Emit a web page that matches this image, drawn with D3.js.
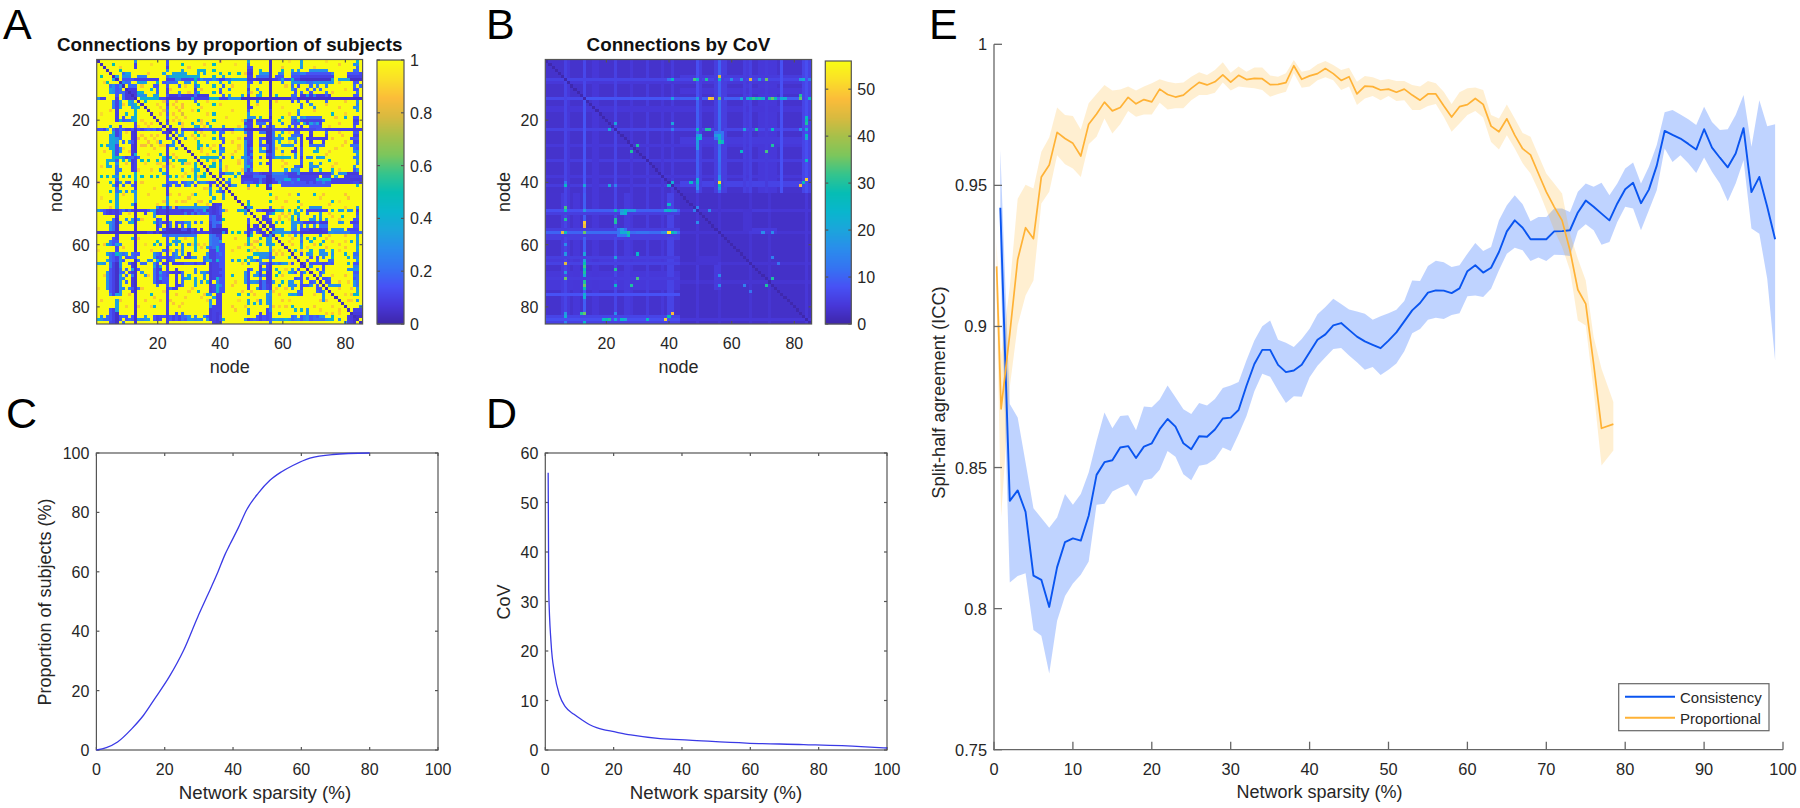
<!DOCTYPE html>
<html><head><meta charset="utf-8">
<script src="https://cdn.jsdelivr.net/npm/d3@7/dist/d3.min.js"></script>
<style>html,body{margin:0;padding:0;background:#fff}svg{display:block}text{font-family:"Liberation Sans",Arial,sans-serif}</style>
</head><body><svg id="c" width="1800" height="808"></svg>
<script>
// ---------- DATA ----------
const nodeCount = 85;
const heatTicks = [20,40,60,80];
const propBarTicks = [0,.2,.4,.6,.8,1];
const covBarTicks = [0,10,20,30,40,50];
const percentTicks = [0,20,40,60,80,100];
const covTicks = [0,10,20,30,40,50,60];
const iccTicks = [.75,.8,.85,.9,.95,1];
const sparsityTicks = [0,10,20,30,40,50,60,70,80,90,100];
const parulaStops = ["#3e26a8","#4737d8","#4751f5","#3573f2","#2a8cec","#1ca4dc","#09b6cd","#06bdb4","#35c48c","#7cc65c","#a6c04a","#d8ba3f","#fbbc3a","#fadf28","#f9fb15"];

// Panel A: bands of low values (rowFrom,rowTo,colFrom,colTo,value; upper triangle)
const proportionBands = [
[20,36,48,48,.3],[20,36,50,50,.22],[22,32,55,55,.15],[22,32,57,57,.22],[39,40,47,85,.1],[6,7,66,76,.1],[5,5,66,76,.25],[8,8,66,76,.3],[5,7,81,85,.12],[24,30,83,84,.15],
[12,13,66,75,.08],[20,20,49,50,.1],[20,20,53,56,.1],[20,20,63,66,.12],[20,20,67,72,.16],[19,19,67,72,.35],[21,21,67,72,.35],
[39,42,49,49,.05],[39,42,55,56,.05],[40,41,60,75,.15],[39,39,60,75,.4],[1,42,56,56,.06],[1,42,49,49,.08],
[12,13,23,36,.08],[6,7,14,16,.25],[7,7,23,33,.15],[6,6,23,33,.38],[7,7,35,43,.2],
[1,2,23,23,.2],[6,7,23,23,.12]
];
// Panel A: cells that differ from 1 (upper triangle; "row: col value; from-to value")
const proportionRuns = [
"1: 13 .3; 23 .15; 49 .35; 56 .05; 66 .35; 84 .4",
"2: 6 .5; 13 .1; 23 .15; 28 .5; 49 .2; 56 .05; 66 .35; 83-84 .3",
"3: 13 .1; 23 .1; 49-50 .15; 56 .05; 66 .3; 84 .2",
"4: 8 .5; 23 .3; 28 .35; 33-35 .4; 38 .4; 49-50 .1; 53 .4; 56 .05; 60 .45; 63 .35; 65 .35; 69-74 .3; 83-84 .2",
"5: 9 .2; 10-11 .35; 22 .35; 25-29 .35; 33 .35; 35 .35; 40 .4; 43 .45; 46 .45; 49-50 .08; 53-55 .3; 56 .05; 59-60 .25; 63-65 .2; 68-75 .15; 81-84 .15",
"6: 7 .35; 9-11 .3; 23 .2; 32 .4; 41 .35; 49-50 .1; 52-55 .2; 56 .05; 58-60 .15; 63-65 .15; 67-75 .1; 81-85 .1",
"7: 9-12 .15; 13-20 .1; 23-25 .1; 26-27 .3; 28-31 .12; 32 .5; 34 .3; 38 .3; 40-41 .1; 44-48 .35; 49-51 .08; 52-56 .05; 57-58 .1; 59 .15; 60 .35; 61-62 .12; 63 .45; 64-65 .1; 66-75 .05; 76 .35; 78-79 .35; 80-81 .35; 82-85 .05",
"8: 9 .3; 10-11 .2; 14-16 .35; 20 .4; 22 .15; 23-26 .2; 29-30 .3; 32 .4; 36 .25; 40 .3; 43 .4; 49-50 .15; 53 .25; 56 .05; 60 .25; 63-65 .3; 68-69 .2; 71 .3; 73-74 .3; 83-84 .15",
"9: 11-13 .2; 19-20 .15; 23 .15; 27 .2; 32 .2; 41 .2; 49 .2; 56 .05; 63 .2; 65 .15; 69 .2; 71 .25; 74 .25; 83 .2; 85 .2",
"10: 11-13 .08; 18 .4; 20 .2; 23 .1; 32 .1; 40 .2; 43 .3; 49 .1; 52 .3; 56 .05; 63 .3; 64 .15; 68 .2; 70 .2; 72 .2; 83-84 .15",
"11: 12-13 .08; 14-15 .4; 20 .2; 23 .1; 27 .3; 32 .15; 40 .15; 49 .2; 53 .3; 56 .05; 64 .15; 66 .2; 69 .15; 74 .25; 84 .2",
"12: 13 .08; 14-16 .3; 19-20 .35; 23 .15; 27 .15; 32 .2; 41 .2; 43 .35; 47 .35; 49 .1; 52 .3; 53 .4; 56 .05; 58 .4; 63-64 .2; 68 .35; 70 .25; 74 .15; 83-84 .15",
"13: 15-20 .4; 21-22 .12; 23-30 .06; 31 .4; 32-36 .1; 37-39 .4; 40-42 .1; 43-46 .3; 47-62 .05; 63-64 .15; 65-85 .05",
"14: 16 .4; 23 .15; 32 .2; 49 .1; 52 .3; 56 .05; 63 .15; 65 .2; 68 .15; 74 .2; 84 .3",
"15: 23 .1; 49 .1; 56 .05; 66 .2; 69 .3; 84 .25",
"16: 23 .15; 28 .85; 49-50 .1; 56 .05; 66 .2; 70 .3; 83-84 .3",
"17: 23 .2; 49 .15; 56 .1; 65 .3; 84 .35",
"18: 23 .15; 28 .8; 49 .3; 56 .1; 65 .25; 76 .45",
"19: 23 .2; 49-51 .3; 53 .4; 56 .05; 60 .4; 63-64 .3; 66 .25; 68-72 .2; 80 .4; 83-84 .15",
"20: 23 .1; 49-50 .08; 52-53 .12; 55-56 .1; 59 .45; 63 .2; 64 .12; 65 .4; 67-72 .1; 73 .2; 83-84 .1",
"21: 23 .15; 27 .3; 31 .4; 36 .3; 48-50 .1; 52-54 .2; 56 .05; 60 .25; 63-65 .15; 68 .1; 70 .2; 72 .1; 83-84 .12",
"22: 24 .1; 32 .4; 37 .4; 41 .3; 49-50 .1; 53 .1; 56 .05; 62 .2; 64 .15; 66 .1; 69-72 .15; 83 .15",
"23: 24-26 .08; 28-34 .1; 35-40 .15; 41-44 .1; 45-47 .3; 48-56 .06; 57-60 .15; 61-66 .1; 67-70 .12; 71-73 .15; 74-85 .1",
"24: 26 .2; 28 .3; 32 .45; 40-41 .2; 49-50 .1; 53-54 .2; 55-56 .05; 60 .4; 64-65 .15; 69 .1; 74 .2; 83-84 .15",
"25: 27-28 .3; 40 .15; 49-50 .1; 55-56 .05; 59 .35; 63-65 .2; 66 .1; 69 .08; 74 .1; 83-84 .1",
"26: 29 .3; 40-41 .2; 48-50 .1; 53-54 .12; 55-56 .05; 58-60 .3; 62-64 .3; 66 .1; 68-74 .1; 82-84 .15",
"27: 41 .15; 49-50 .1; 53 .2; 55-56 .05; 59 .4; 64 .2; 66 .1; 69 .08; 73 .1; 83-84 .1",
"28: 33-34 .4; 36 .35; 40 .15; 49 .08; 50 .1; 53-55 .15; 56 .05; 60-63 .3; 66 .1; 69-73 .2; 82-84 .2",
"29: 40-41 .2; 49 .1; 53 .3; 56 .05; 64 .1; 66 .15; 71 .3; 83 .2",
"30: 40-41 .3; 49-50 .1; 53-54 .3; 55-56 .05; 60 .3; 63-64 .1; 66 .15; 70-71 .4; 83-84 .3",
"31: 40 .2; 49 .1; 56 .1; 64 .3; 66 .15; 84 .3",
"32: 34-39 .4; 41 .15; 44 .4; 47-48 .3; 49 .2; 50 .1; 53 .2; 55-56 .08; 58-62 .4; 64 .3; 66 .1; 68-69 .25; 71-73 .35; 83-84 .25",
"33: 9 .45; 11 .4; 15 .45; 17 .5; 20 .45; 22 .35; 25 .45; 27 .45; 29 .5; 36 .4; 40 .2; 49 .15; 56 .1; 66 .15; 75 .4; 84 .3",
"34: 40 .3; 49-50 .15; 53 .3; 55-56 .1; 66 .15; 69 .3; 72 .3; 84 .25",
"35: 37-38 .45; 40 .3; 49 .4; 50 .15; 56 .1; 64-65 .2; 66 .1; 69-71 .3; 83 .3",
"36: 40 .2; 56 .1; 61 .35; 63-65 .3; 69 .2; 72 .4; 76 .4; 83 .15; 84 .3",
"37: 40-41 .12; 42-44 .35; 46 .35; 48-50 .1; 51-52 .15; 53 .1; 54-56 .07; 57-60 .25; 61 .15; 62-64 .1; 65 .3; 66-72 .08; 73-75 .1; 76 .3; 78-80 .3; 81-84 .08",
"38: 2 .45; 4 .45; 6 .4; 9 .4; 11 .45; 15 .45; 18 .4; 20 .45; 24 .45; 26 .4; 30 .45; 34 .45; 40 .1; 45 .4; 47-50 .08; 51-54 .2; 55-56 .05; 57-61 .2; 62-65 .1; 66-71 .1; 73-75 .12; 77 .35; 80-85 .1",
"39: 41 .1; 43 .35; 48-50 .1; 53 .2; 55-56 .05; 58-60 .2; 63-64 .15; 66-70 .1; 72 .25; 82-85 .08",
"40: 42-43 .2; 48-50 .15; 53 .25; 56 .05; 59 .3; 63 .2; 65 .15; 68 .1; 70 .1; 73 .25; 83-84 .12",
"41: 43 .1; 44-45 .3; 49 .3; 52 .5; 56 .3; 84 .4",
"42: 49 .85",
"44: 56 .45; 65 .3; 70 .4",
"46: 49 .3; 56 .5; 65 .4; 76 .4",
"47: 49 .5",
"48: 49-50 .3; 56 .2; 65 .45; 69-72 .3; 84 .3",
"49: 52-53 .15; 54-57 .08; 58-60 .4; 62 .45; 64 .4; 66 .3; 68-74 .12; 76 .4; 78-79 .35; 81-82 .3; 84 .1",
"50: 55 .1; 56 .2; 57 .45; 64-65 .35; 68 .2; 72 .3; 84 .15",
"51: 54 .1; 55 .15; 63 .4; 65 .3; 70 .3; 72 .3; 79 .4; 84 .2",
"52: 54-55 .1; 56 .15; 63 .45; 65 .15; 69-70 .3; 72 .25; 74 .35; 83-84 .15",
"53: 55-56 .08; 58 .4; 60 .5; 63-65 .3; 66 .2; 67-70 .1; 71 .2; 72-74 .08; 78-79 .3; 82-84 .1",
"54: 56-57 .08; 63-64 .3; 66 .2; 68 .3; 70 .25; 72-74 .2; 83-84 .15",
"55: 57 .1; 58-60 .3; 63 .3; 64 .25; 66-68 .12; 69-72 .08; 73-74 .1; 76-79 .3; 81-84 .12",
"56: 57-62 .3; 63-64 .15; 65 .2; 66-74 .08; 75-76 .3; 77-81 .25; 82-84 .15; 85 .2",
"57: 60 .4; 64 .3; 66 .2; 72 .3; 84 .3",
"58: 66 .3; 68 .4; 70 .5; 84 .35",
"59: 66 .2; 69 .4; 73 .35; 82 .4; 84 .3",
"60: 66 .3; 72 .45; 84 .3",
"61: 66 .35; 84 .4",
"62: 64 .4; 69 .4; 72-73 .3; 76 .4; 84 .3",
"63: 66 .15; 68-69 .3; 72-74 .3; 76 .3; 80 .4; 83-84 .2",
"64: 69 .15; 71 .15; 73 .25; 76 .4; 81 .4; 83-84 .25",
"65: 68 .15; 71 .2; 75-76 .2; 84 .3",
"66: 67 .1; 69-72 .15; 73-74 .12; 75 .2; 76 .15; 81 .4; 83-84 .15",
"67: 69 .3; 73 .15; 83-84 .25",
"68: 71 .2; 73 .15; 81-84 .3",
"69: 72 .15; 73 .3; 83-84 .15",
"70: 72 .2; 83-84 .2",
"71: 73 .15; 74 .15; 75 .2; 83 .15; 84 .2",
"72: 74-75 .15; 83 .3; 84 .2",
"73: 75-78 .3; 83 .3; 84 .2",
"74: 84 .3", "75: 84 .35", "76: 83 .45; 84 .4", "78: 84 .3", "80: 85 .3",
"81: 83-85 .1", "82: 83-85 .08", "83: 84-85 .05"
];
// Panel A: pale orange specks among the yellow cells
const proportionSpecks = [
"1: 40 .88; 62 .92; 74 .92", "2: 18 .92; 35 .9; 45 .92; 78 .88", "3: 8 .9; 30 .88; 60 .88; 70 .9",
"5: 17 .88; 48 .88", "8: 26 .88; 78 .88", "9: 15 .88; 29 .9; 44 .88; 61 .88",
"10: 24 .9; 34 .88; 80 .9", "11: 30 .88; 50 .88; 76 .88", "14: 22 .88; 26 .85; 36 .9; 58 .88; 80 .88",
"15: 20 .9; 25 .88; 28 .85; 40 .88; 52 .88; 74 .88", "16: 21 .9; 26 .88; 34 .9; 60 .92; 78 .88",
"17: 22 .88; 27 .85; 31 .9; 44 .9; 70 .88", "18: 21 .88; 25 .88; 36 .9; 62 .88; 80 .9",
"19: 26 .9; 29 .88; 42 .9; 77 .88", "20: 25 .88; 27 .9; 34 .88; 47 .9", "21: 28 .88; 34 .9; 78 .88",
"22: 28 .9; 35 .88; 46 .88; 75 .9", "24: 34 .9; 44 .9; 62 .88; 78 .88", "25: 31 .88; 35 .9; 48 .88; 79 .88",
"26: 32 .88; 38 .9; 46 .88; 76 .88", "27: 33 .9; 44 .88; 62 .9; 80 .88", "28: 38 .9; 46 .88; 79 .9",
"29: 34 .88; 37 .9; 46 .9; 58 .88; 77 .9", "30: 34 .88; 38 .88; 45 .88; 75 .88", "31: 36 .88; 44 .9; 60 .9; 74 .88",
"33: 38 .88; 46 .9; 60 .88", "34: 38 .9; 46 .88; 61 .88; 77 .9", "35: 42 .88; 60 .9; 76 .88", "36: 42 .9; 47 .88; 78 .9",
"44: 62 .9; 73 .88; 80 .88", "45: 58 .88; 72 .9; 81 .88", "46: 61 .88; 78 .92", "47: 66 .9; 75 .88", "48: 60 .88; 80 .9",
"50: 60 .85; 62 .88; 75 .88", "51: 59 .88; 61 .9; 76 .88", "52: 59 .85; 62 .9; 78 .88", "57: 62 .9; 75 .88; 80 .88",
"58: 63 .88; 74 .88", "59: 62 .9; 76 .88; 80 .9", "60: 63 .88; 70 .88; 78 .88", "61: 68 .9; 74 .88; 80 .88",
"62: 66 .88; 78 .9", "70: 76 .9; 80 .88", "72: 78 .88; 81 .9", "74: 78 .88; 82 .88", "76: 80 .9; 82 .88", "78: 81 .88; 82 .9"
];
const proportionDiagonal = .03;

// Panel B: regions of the coefficient of variation (rowFrom,rowTo,colFrom,colTo,value; upper triangle)
const covBackground = 3.1;
const covDiagonal = .5;
const covRegions = [
[44,85,44,85,2.7],[1,43,1,43,3],
[1,43,65,66,4.4],[1,43,69,74,4.2],[1,43,84,84,6],[1,43,83,83,4.8],[1,43,55,55,5],[1,43,50,50,5],[1,43,41,41,4.6],
[33,33,1,85,4.8],[28,28,1,85,4.2],[38,38,1,85,4.2],[26,27,44,85,4.6],[8,8,1,85,4.2],[16,17,1,85,4],[10,11,44,85,4],
[1,6,7,7,5.5],[8,43,7,7,6.5],[1,12,13,13,6.5],[14,43,13,13,8.5],[1,22,23,23,5.5],[24,43,23,23,6.5],
[1,43,49,49,8],[1,43,56,56,8.5],[1,30,76,76,7],[1,43,58,58,5],
[44,85,7,7,7.5],[44,85,13,13,10],[44,85,23,23,6.5],[44,85,41,41,6],[44,85,6,6,4.6],[44,85,40,40,5],
[7,7,8,85,6],[13,13,14,43,8.5],[13,13,44,85,9.5],[23,23,24,85,6],[40,41,44,85,5.8],
[49,49,14,43,9.5],[49,49,1,12,7.5],[56,56,14,43,11],[56,56,1,12,10],[50,50,1,43,5],[55,55,1,43,5],[57,57,1,43,5],
[76,76,1,43,8],[66,66,1,43,5.5],[64,64,1,43,5],[83,83,1,43,6],[84,84,1,43,7.5],[85,85,1,43,5.5],[71,71,1,43,4.6],
[49,49,25,29,18],[56,56,24,27,16],[56,56,30,33,12],[55,57,24,26,12],[49,49,40,42,17],[56,56,38,42,16],
[56,56,44,85,3.6],[49,49,44,85,3.8],[66,66,44,85,3.6],[72,72,44,85,3.5],[49,85,49,49,3.8],[49,85,56,56,3.6],[49,49,66,72,4.5],[55,56,66,74,4.5],[49,55,64,66,3.6],[44,85,84,84,4]
];
const covHotspots = [
[6,56,44],[7,41,26],[7,49,25],[7,52,27],[7,56,30],[7,66,42],[7,71,33],[7,60,16],[7,63,18],[7,69,18],
[13,53,52],[13,54,50],[13,56,33],[13,82,38],[13,76,20],[13,72,25],[13,70,25],[13,63,20],[13,65,20],[13,69,25],[13,85,26],[13,41,18],[13,66,28],[13,68,26],
[23,49,27],[23,52,30],[23,68,33],[23,73,28],[23,41,14],[19,84,28],[21,84,33],[23,21,20],[26,49,25],[26,50,24],[25,50,20],[27,56,35],[25,56,22],[26,56,22],[25,55,18],
[28,30,30],[30,71,33],[28,73,30],[30,63,20],[40,56,50],[41,82,52],[39,84,52],[40,83,28],[33,84,25],[26,84,20],[40,49,25],[39,49,22],[40,47,25],[41,56,28],[41,7,25],[41,13,20],[41,21,20],[41,40,22],
[40,7,12],[47,40,25],[48,7,33],[52,7,30],[53,13,50],[54,13,47],[53,23,30],[56,6,45],[56,7,25],[56,13,35],[56,27,30],[57,27,25],[56,40,52],[56,41,28],[56,42,20],[49,13,18],
[64,23,20],[63,30,25],[66,7,45],[68,23,30],[67,13,32],[69,13,30],[71,7,35],[72,13,30],[73,13,35],[74,13,28],[73,23,25],[76,13,22],[70,13,22],[77,13,22],[82,13,35],[82,12,30],[82,41,48],[84,39,50],[83,40,28],[84,19,25],[84,20,28],[84,21,30],[84,23,22],[84,25,25],[84,33,25],[82,23,16],[85,13,24],[82,7,18],[83,7,22],[85,7,14],
[49,48,14],[53,49,16],[56,70,16],[56,73,16],[64,73,14],[66,75,12],[71,73,30]
];

// Panel C
const proportionX = [0,2.9,6.2,10.4,13.8,17.1,21.3,25.5,29.7,32.3,35.6,37.6,39,41.5,44,47.4,50.8,54.1,57.5,62.5,69.2,80];
const proportionY = [0,.8,2.7,7.2,11.7,17.3,24.6,33.5,44.9,51.5,60,65.7,69,74.7,80.9,86.5,90.8,93.6,95.8,98.3,99.5,100];
// Panel D
const covCurveX = [.84,1,1.7,2.7,4.2,5.9,8.4,10.9,13,15,17,19.3,25,33.6,42,58.8,75.6,92.4,100];
const covCurveY = [56,32.3,21.5,15.5,11,8.7,7.2,6,5.1,4.5,4.1,3.8,3.05,2.3,2,1.4,1.1,.7,.4];

// Panel E: Consistency, x = 0.8 then 2..99
const consistency = [.9421,.8382,.8419,.8343,.8117,.8102,.8006,.8147,.8236,.8249,
.8241,.8329,.8474,.8519,.8526,.8571,.8576,.8534,.8574,.8586,
.8636,.8672,.8645,.8586,.8565,.8611,.8609,.8635,.8674,.8677,
.8704,.879,.8867,.8917,.8917,.8864,.8838,.8844,.8864,.8909,
.8953,.8972,.9004,.9012,.8988,.8964,.8947,.8935,.8923,.895,
.8979,.9018,.9057,.9083,.912,.9128,.9127,.9118,.9135,.9196,
.9217,.9191,.9208,.9264,.9337,.9376,.935,.9309,.9309,.9309,
.9337,.9338,.9341,.9404,.9446,.9424,.94,.9376,.9436,.9486,
.9509,.9437,.9485,.957,.9693,.9679,.9666,.9647,.9627,.9699,
.9634,.9598,.9564,.9613,.9703,.9476,.953,.9424,.9309];
const consistencyUpper = [.9625,.8725,.8677,.8518,.8356,.8321,.8287,.8323,.8406,.8368,
.8406,.8482,.8594,.8695,.8639,.8683,.8685,.8632,.8716,.8714,
.8741,.8791,.8749,.8707,.869,.8729,.872,.8743,.8782,.8791,
.8803,.888,.895,.9001,.9021,.8953,.8942,.8927,.8956,.8992,
.9043,.9069,.9098,.908,.906,.9053,.9045,.9024,.9036,.9047,
.9059,.909,.9163,.9161,.9214,.9233,.9228,.9211,.9217,.9258,
.9296,.9267,.9282,.9376,.943,.9465,.9433,.9373,.9388,.9388,
.9418,.9418,.9406,.9477,.9507,.9495,.9509,.9465,.9507,.956,
.9581,.9507,.9566,.9643,.9759,.9767,.9751,.9734,.9714,.9779,
.9725,.9696,.9699,.9749,.982,.9637,.9802,.971,.9717];
const consistencyLower = [.925,.8093,.8116,.8125,.7924,.7904,.777,.7957,.8045,.8089,
.812,.8167,.8368,.8372,.8415,.8429,.8441,.8397,.8455,.8461,
.8492,.8559,.8538,.8476,.8455,.8506,.8512,.853,.8571,.8559,
.8618,.8683,.877,.8832,.8822,.8773,.8729,.8753,.8751,.882,
.8861,.8891,.892,.8924,.8897,.8873,.8847,.8856,.8828,.8847,
.8869,.8912,.8976,.8991,.9024,.9031,.9026,.9041,.9047,.9107,
.911,.9104,.9134,.9199,.9258,.9279,.927,.9232,.9244,.9232,
.9254,.9253,.925,.9338,.9362,.9341,.929,.9299,.937,.9424,
.9418,.9341,.9412,.9483,.9631,.9583,.9607,.9578,.9544,.9599,
.9548,.9507,.9444,.9507,.9589,.9347,.9329,.9169,.8879];
const consistencyX = [.8,2,3,4,5,6,7,8,9,10,11,12,13,14,15,16,17,18,19,20,21,22,23,24,25,26,27,28,29,30,31,32,33,34,35,36,37,38,39,40,41,42,43,44,45,46,47,48,49,50,51,52,53,54,55,56,57,58,59,60,61,62,63,64,65,66,67,68,69,70,71,72,73,74,75,76,77,78,79,80,81,82,83,84,85,86,87,88,89,90,91,92,93,94,95,96,97,98,99];
// Panel E: Proportional
const proportionalX = [.33,.9,2,3,4,5,6,7,8,9,10,11,12,13,14,15,16,17,18,19,20,21,22,23,24,25,26,27,28,29,30,31,32,33,34,35,36,37,38,39,40,41,42,43,44,45,46,47,48,49,50,51,52,53,54,55,56,57,58,59,60,61,62,63,64,65,66,67,68,69,70,71,72,73,74,75,76,77,78.5];
const proportional = [.9213,.8708,.8974,.9237,.935,.9311,.953,.9572,.9688,.9666,
.9649,.9604,.9717,.9753,.9795,.9764,.9776,.9812,.9789,.9804,.9796,
.9841,.9822,.9813,.982,.9844,.9865,.9856,.9867,.9892,.9866,
.989,.9875,.9879,.9878,.9857,.9858,.9864,.9924,.9876,.9888,
.9896,.9914,.9896,.9872,.9885,.9824,.9852,.985,.9838,.9841,
.983,.9841,.982,.9802,.9824,.9824,.9782,.9742,.9779,.9786,
.9808,.9787,.971,.969,.9736,.9678,.963,.9608,.9542,.9477,
.9424,.9376,.927,.913,.908,.8867,.8639,.8654];
const proportionalUpper = [.93,.89,.914,.9453,.9502,.9489,.9619,.967,.9776,.9749,
.9746,.9698,.9791,.9824,.9856,.9836,.984,.985,.9836,.985,.9862,
.9876,.9867,.9862,.9865,.9885,.9901,.9891,.9909,.9936,.9899,
.9921,.9903,.9918,.9918,.9889,.9885,.9897,.9944,.9903,.9909,
.9929,.9941,.9927,.9909,.9917,.9867,.9888,.9883,.9873,.9877,
.987,.987,.9856,.985,.987,.9862,.9832,.9788,.983,.9844,
.9847,.9838,.9749,.9737,.9787,.9737,.9686,.9672,.9607,.9542,
.9507,.9471,.9329,.924,.9163,.8963,.885,.8732];
const proportionalLower = [.91,.8323,.8785,.9004,.911,.9163,.9436,.9477,.9607,.9575,
.956,.953,.9646,.9672,.9737,.9684,.9717,.9764,.9743,.9751,.9751,
.9793,.9769,.9773,.9773,.9802,.982,.982,.9828,.9865,.9836,
.985,.9847,.9844,.9838,.9814,.9824,.9832,.9897,.9846,.985,
.9873,.9883,.9873,.9838,.985,.9785,.9808,.9817,.9802,.9817,
.9799,.9802,.9767,.9767,.9781,.9788,.9743,.969,.9719,.9749,
.9764,.9741,.9654,.9627,.9678,.9631,.9578,.9542,.9483,.9414,
.9341,.9282,.9199,.9021,.9003,.8772,.8507,.856];
const legendLabels = ["Consistency","Proportional"];

// ---------- DRAWING ----------
const svg = d3.select("#c");
const parula = d3.scaleLinear().domain(parulaStops.map((_,i)=>i/(parulaStops.length-1))).range(parulaStops).clamp(true);
const inkAxis = "#555", inkText = "#262626";

const defs = svg.append("defs");
defs.append("filter").attr("id","soft").attr("x","-2%").attr("y","-2%").attr("width","104%").attr("height","104%")
  .attr("color-interpolation-filters","sRGB")
  .append("feGaussianBlur").attr("stdDeviation",.7);

function blankMatrix(v){ return d3.range(nodeCount).map(()=>new Array(nodeCount).fill(v)); }
function applyRegions(m,list){
  list.forEach(([r0,r1,c0,c1,v])=>{
    for(let r=r0;r<=r1;r++)for(let c=c0;c<=c1;c++){ m[r-1][c-1]=v; m[c-1][r-1]=v; }
  });
}
function applyRuns(m,list){
  list.forEach(line=>{
    const [rowTxt,rest]=line.split(":"); const r=+rowTxt;
    rest.split(";").forEach(part=>{
      const [span,val]=part.trim().split(" ");
      const [a,b]=span.split("-").map(Number);
      for(let c=a;c<=(b||a);c++){ m[r-1][c-1]=+val; m[c-1][r-1]=+val; }
    });
  });
}
const matA = blankMatrix(1);
applyRegions(matA,proportionBands);
applyRuns(matA,proportionSpecks);
applyRuns(matA,proportionRuns);
const matB = blankMatrix(covBackground);
applyRegions(matB,covRegions);
covHotspots.forEach(([r,c,v])=>{ matB[r-1][c-1]=v; matB[c-1][r-1]=v; });
d3.range(nodeCount).forEach(i=>{ matA[i][i]=proportionDiagonal; matB[i][i]=covDiagonal; });

function boxTicks(g,x,y,xt,yt,len){
  const [x0,x1]=x.range(),[y1,y0]=y.range();
  xt.forEach(t=>{
    g.append("line").attr("x1",x(t)).attr("x2",x(t)).attr("y1",y1).attr("y2",y1-len);
    g.append("line").attr("x1",x(t)).attr("x2",x(t)).attr("y1",y0).attr("y2",y0+len);
  });
  yt.forEach(t=>{
    g.append("line").attr("y1",y(t)).attr("y2",y(t)).attr("x1",x0).attr("x2",x0+len);
    g.append("line").attr("y1",y(t)).attr("y2",y(t)).attr("x1",x1).attr("x2",x1-len);
  });
  g.append("rect").attr("x",x0).attr("y",y0).attr("width",x1-x0).attr("height",y1-y0).attr("fill","none");
}
function label(txt,x,y,size,opts={}){
  const t=svg.append("text").attr("x",x).attr("y",y).attr("font-size",size).attr("fill",opts.fill||inkText)
    .attr("text-anchor",opts.anchor||"middle").attr("font-weight",opts.weight||"normal").text(txt);
  if(opts.rot) t.attr("transform",`rotate(-90 ${x} ${y})`);
  return t;
}
function heatmap(m,maxV,o){
  const band=d3.scaleBand().domain(d3.range(1,nodeCount+1)).paddingInner(0);
  const bx=band.copy().range([o.x0,o.x1]), by=band.copy().range([o.y0,o.y1]);
  const col=d3.scaleLinear().domain([0,maxV]).range([0,1]);
  const clip=svg.append("clipPath").attr("id","clip"+o.id);
  clip.append("rect").attr("x",o.x0).attr("y",o.y0).attr("width",o.x1-o.x0).attr("height",o.y1-o.y0);
  const cg=svg.append("g").attr("clip-path",`url(#clip${o.id})`);
  const g=cg.append("g").attr("filter","url(#soft)").attr("shape-rendering","crispEdges");
  const cells=[]; m.forEach((row,i)=>row.forEach((v,j)=>cells.push({i:i+1,j:j+1,v})));
  g.selectAll("rect").data(cells).join("rect")
    .attr("x",d=>bx(d.j)).attr("y",d=>by(d.i)).attr("width",bx.bandwidth()+.6).attr("height",by.bandwidth()+.6)
    .attr("fill",d=>parula(col(d.v)));
  const x=d3.scaleLinear().domain([.5,85.5]).range([o.x0,o.x1]);
  const y=d3.scaleLinear().domain([85.5,.5]).range([o.y1,o.y0]);
  const ag=svg.append("g").attr("stroke",inkAxis).attr("stroke-width",1.2);
  boxTicks(ag,x,y,heatTicks,heatTicks,3);
  heatTicks.forEach(t=>{
    label(t,x(t),349,16);
    label(t,o.x0-7,y(t)+6,16,{anchor:"end"});
  });
  label("node",(o.x0+o.x1)/2,373,18);
  label("node",o.x0-35,192,18,{rot:true});
  label(o.title,(o.x0+o.x1)/2,o.titleY,18.8,{weight:"bold",fill:"#111"});
  // colour bar
  const cy=d3.scaleLinear().domain([0,maxV]).range([o.by1,o.by0]);
  const steps=d3.range(0,o.by1-o.by0);
  svg.append("g").selectAll("rect").data(steps).join("rect")
    .attr("x",o.bx0).attr("width",o.bx1-o.bx0).attr("y",s=>o.by0+s).attr("height",1.3)
    .attr("fill",s=>parula(1-s/(o.by1-o.by0)));
  const cg2=svg.append("g").attr("stroke",inkAxis).attr("stroke-width",1.2);
  o.barTicks.forEach(t=>{
    cg2.append("line").attr("x1",o.bx0).attr("x2",o.bx0+3).attr("y1",cy(t)).attr("y2",cy(t));
    cg2.append("line").attr("x1",o.bx1).attr("x2",o.bx1-3).attr("y1",cy(t)).attr("y2",cy(t));
    label(t,o.bx1+6,cy(t)+6,16,{anchor:"start"});
  });
  cg2.append("rect").attr("x",o.bx0).attr("y",o.by0).attr("width",o.bx1-o.bx0).attr("height",o.by1-o.by0).attr("fill","none");
}
heatmap(matA,1,{id:"A",x0:96.7,x1:362.6,y0:59.5,y1:324,bx0:377,bx1:404,by0:60,by1:324,title:"Connections by proportion of subjects",titleY:51,barTicks:propBarTicks});
heatmap(matB,56,{id:"B",x0:545.3,x1:811.6,y0:59.5,y1:324,bx0:825.3,bx1:851.3,by0:61,by1:324,title:"Connections by CoV",titleY:51,barTicks:covBarTicks});

function curve(xs,ys,o){
  const x=d3.scaleLinear().domain([0,100]).range([o.x0,o.x1]);
  const y=d3.scaleLinear().domain([0,o.ymax]).range([750,453]);
  const g=svg.append("g").attr("stroke",inkAxis).attr("stroke-width",1.2);
  boxTicks(g,x,y,percentTicks,o.yTicks,3);
  svg.append("path").attr("fill","none").attr("stroke","#3a3ae6").attr("stroke-width",1.3)
    .attr("d",d3.line().curve(d3.curveMonotoneX).x((d,i)=>x(xs[i])).y(d=>y(d))(ys));
  percentTicks.forEach(t=>label(t,x(t),775,16));
  o.yTicks.forEach(t=>label(t,o.x0-7,y(t)+6,16,{anchor:"end"}));
  label("Network sparsity (%)",o.labelX,799,18.7);
  label(o.ylabel,o.ylabelX,602,18,{rot:true});
}
curve(proportionX,proportionY,{x0:96.4,x1:438,ymax:100,yTicks:percentTicks,ylabel:"Proportion of subjects (%)",ylabelX:50.5,labelX:265});
curve(covCurveX,covCurveY,{x0:545.3,x1:887,ymax:60,yTicks:covTicks,ylabel:"CoV",ylabelX:510,labelX:716});

// Panel E
const ex=d3.scaleLinear().domain([0,100]).range([994,1783]);
const ey=d3.scaleLinear().domain([.75,1]).range([749.7,44.3]);
function band(xs,up,lo,fill,op){
  svg.append("path").attr("fill",fill).attr("fill-opacity",op).attr("stroke","none")
    .attr("d",d3.area().x((d,i)=>ex(xs[i])).y0((d,i)=>ey(lo[i])).y1(d=>ey(d))(up));
}
function line(xs,ys,color,w){
  svg.append("path").attr("fill","none").attr("stroke",color).attr("stroke-width",w).attr("stroke-linejoin","round")
    .attr("d",d3.line().x((d,i)=>ex(xs[i])).y(d=>ey(d))(ys));
}
const blueLine="#0a55f0", orangeLine="#ffb236";
band(consistencyX,consistencyUpper,consistencyLower,"#0050ff",.25);
band(proportionalX,proportionalUpper,proportionalLower,"#ffa500",.18);
line(consistencyX,consistency,blueLine,1.9);
line(proportionalX,proportional,orangeLine,1.7);
const eg=svg.append("g").attr("stroke","#666").attr("stroke-width",1.3);
eg.append("line").attr("x1",994).attr("x2",994).attr("y1",44.3).attr("y2",750.3);
eg.append("line").attr("x1",993.4).attr("x2",1783).attr("y1",749.7).attr("y2",749.7);
iccTicks.forEach(t=>{
  eg.append("line").attr("x1",994).attr("x2",1002).attr("y1",ey(t)).attr("y2",ey(t));
  label(t===1?"1":t,987,ey(t)+6,16.4,{anchor:"end"});
});
sparsityTicks.forEach(t=>{
  eg.append("line").attr("x1",ex(t)).attr("x2",ex(t)).attr("y1",749.7).attr("y2",741.7);
  label(t,ex(t),775,16.4);
});
label("Network sparsity (%)",1319.5,798,18);
label("Split-half agreement (ICC)",945,392.5,18.3,{rot:true});
const leg=svg.append("g");
leg.append("rect").attr("x",1618.7).attr("y",683.7).attr("width",150.3).attr("height",47).attr("fill","#fff").attr("stroke","#666").attr("stroke-width",1.2);
[[blueLine,696.7,703],[orangeLine,717.7,724]].forEach(([c,y,b],i)=>{
  leg.append("line").attr("x1",1625).attr("x2",1675).attr("y1",y).attr("y2",y).attr("stroke",c).attr("stroke-width",1.9);
  label(legendLabels[i],1680,b,15,{anchor:"start"});
});
// panel letters
[["A",3,39],["B",486,39],["C",6,428],["D",486,428],["E",929,39]].forEach(([t,x,y])=>label(t,x,y,43,{anchor:"start",fill:"#000"}));
</script></body></html>
